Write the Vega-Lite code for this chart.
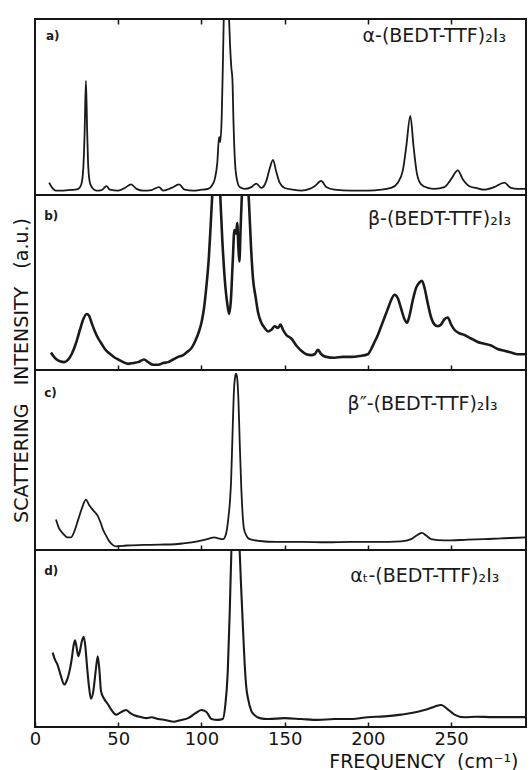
{
  "$schema": "https://vega.github.io/schema/vega-lite/v6.json",
  "background": "white",
  "padding": {"left": 11, "top": 17, "right": 4, "bottom": 2},
  "spacing": 0,
  "bounds": "flush",
  "config": {
    "font": "DejaVu Sans",
    "view": {"stroke": "#161616", "strokeWidth": 2},
    "axis": {"grid": false, "domain": false, "tickColor": "#161616", "tickWidth": 1.5, "labelColor": "#141414", "titleColor": "#141414", "titleFontWeight": "normal"}
  },
  "datasets": {
    "a": [
      {"f": 8.5, "v": 7}, {"f": 10, "v": 4.5}, {"f": 12.6, "v": 2.5}, {"f": 16, "v": 2.5}, {"f": 20, "v": 2.8}, {"f": 24, "v": 3}, {"f": 26, "v": 3.5},
      {"f": 27.8, "v": 6}, {"f": 29, "v": 15}, {"f": 29.8, "v": 35}, {"f": 30.6, "v": 65}, {"f": 31.3, "v": 38}, {"f": 32, "v": 16}, {"f": 33, "v": 7},
      {"f": 34.5, "v": 4}, {"f": 37, "v": 2.5}, {"f": 40, "v": 2.8}, {"f": 43, "v": 5}, {"f": 45, "v": 3}, {"f": 50, "v": 2.5}, {"f": 54, "v": 4},
      {"f": 57.7, "v": 6}, {"f": 61, "v": 3.5}, {"f": 65, "v": 2.5}, {"f": 70, "v": 2.8}, {"f": 74.5, "v": 4.5}, {"f": 77, "v": 2.5}, {"f": 82, "v": 4},
      {"f": 86.5, "v": 6}, {"f": 90, "v": 3}, {"f": 95, "v": 2.5}, {"f": 100, "v": 3}, {"f": 104, "v": 3.5}, {"f": 106, "v": 5}, {"f": 108, "v": 9},
      {"f": 109.5, "v": 18}, {"f": 110.6, "v": 33}, {"f": 111.3, "v": 30}, {"f": 112.2, "v": 45}, {"f": 113, "v": 80}, {"f": 113.8, "v": 115},
      {"f": 115, "v": 125}, {"f": 116.2, "v": 110}, {"f": 117.2, "v": 85}, {"f": 118, "v": 72}, {"f": 118.6, "v": 66}, {"f": 119.3, "v": 40},
      {"f": 120.2, "v": 18}, {"f": 121.5, "v": 8}, {"f": 123, "v": 4.5}, {"f": 126, "v": 3.5}, {"f": 130, "v": 4.5}, {"f": 133, "v": 6.5},
      {"f": 136, "v": 4}, {"f": 139, "v": 8}, {"f": 141, "v": 15}, {"f": 143, "v": 20}, {"f": 145, "v": 13}, {"f": 147, "v": 7}, {"f": 150, "v": 4},
      {"f": 155, "v": 3}, {"f": 160, "v": 2.5}, {"f": 165, "v": 3.5}, {"f": 168, "v": 5}, {"f": 172, "v": 8}, {"f": 175, "v": 4.5}, {"f": 180, "v": 3},
      {"f": 190, "v": 2.5}, {"f": 200, "v": 2.5}, {"f": 208, "v": 3}, {"f": 214, "v": 4}, {"f": 218, "v": 7}, {"f": 221, "v": 14}, {"f": 223, "v": 27},
      {"f": 225.5, "v": 45}, {"f": 227.5, "v": 27}, {"f": 229.5, "v": 12}, {"f": 232, "v": 6}, {"f": 236, "v": 4}, {"f": 240, "v": 3.5},
      {"f": 246, "v": 4.5}, {"f": 250, "v": 9}, {"f": 254, "v": 14}, {"f": 257, "v": 9}, {"f": 261, "v": 5}, {"f": 265, "v": 4}, {"f": 270, "v": 3},
      {"f": 276, "v": 4.5}, {"f": 282, "v": 7}, {"f": 286, "v": 4}, {"f": 290, "v": 3.5}, {"f": 295, "v": 3.5}
    ],
    "b": [
      {"f": 9.6, "v": 10}, {"f": 11, "v": 8}, {"f": 13, "v": 6}, {"f": 15, "v": 5}, {"f": 17.5, "v": 4.5}, {"f": 19.5, "v": 5.5}, {"f": 22, "v": 9},
      {"f": 24.5, "v": 15}, {"f": 27, "v": 23}, {"f": 29, "v": 29}, {"f": 31, "v": 32}, {"f": 32.5, "v": 31}, {"f": 34, "v": 27}, {"f": 36, "v": 22},
      {"f": 38, "v": 18}, {"f": 40, "v": 15}, {"f": 42, "v": 12}, {"f": 44, "v": 10}, {"f": 46, "v": 8.5}, {"f": 48, "v": 7}, {"f": 50, "v": 6},
      {"f": 53, "v": 4.5}, {"f": 56, "v": 3.5}, {"f": 59, "v": 4}, {"f": 62, "v": 4.5}, {"f": 65.5, "v": 6}, {"f": 68, "v": 4.5}, {"f": 71, "v": 3},
      {"f": 74, "v": 3}, {"f": 77, "v": 4}, {"f": 80, "v": 4.5}, {"f": 83, "v": 6}, {"f": 86, "v": 7.5}, {"f": 89, "v": 8.5}, {"f": 91, "v": 10},
      {"f": 94, "v": 12.5}, {"f": 96.5, "v": 17}, {"f": 98.5, "v": 22}, {"f": 100, "v": 27}, {"f": 101.5, "v": 35}, {"f": 103, "v": 48},
      {"f": 104.5, "v": 65}, {"f": 105.5, "v": 82}, {"f": 106.5, "v": 100}, {"f": 108, "v": 120}, {"f": 110, "v": 125}, {"f": 111.2, "v": 102},
      {"f": 112.5, "v": 75}, {"f": 114, "v": 52}, {"f": 115.5, "v": 38}, {"f": 116.7, "v": 32}, {"f": 117.7, "v": 40}, {"f": 118.8, "v": 62},
      {"f": 119.8, "v": 80}, {"f": 120.8, "v": 78}, {"f": 121.5, "v": 84}, {"f": 122.2, "v": 70}, {"f": 122.8, "v": 62}, {"f": 123.5, "v": 80},
      {"f": 124.5, "v": 105}, {"f": 126, "v": 125}, {"f": 127.5, "v": 110}, {"f": 128.6, "v": 95}, {"f": 129.8, "v": 70}, {"f": 131, "v": 52},
      {"f": 132.5, "v": 42}, {"f": 134, "v": 33}, {"f": 136, "v": 27}, {"f": 138, "v": 24}, {"f": 140, "v": 22}, {"f": 142, "v": 23}, {"f": 144, "v": 25},
      {"f": 146, "v": 24}, {"f": 147.5, "v": 26}, {"f": 149, "v": 23}, {"f": 151, "v": 20}, {"f": 154, "v": 18}, {"f": 157, "v": 14}, {"f": 160, "v": 11},
      {"f": 163, "v": 9}, {"f": 166, "v": 8.5}, {"f": 168, "v": 9}, {"f": 170, "v": 11.5}, {"f": 172, "v": 9}, {"f": 175, "v": 7.5}, {"f": 180, "v": 7},
      {"f": 185, "v": 7.5}, {"f": 190, "v": 7.5}, {"f": 195, "v": 8}, {"f": 200, "v": 9}, {"f": 202, "v": 12}, {"f": 204, "v": 16}, {"f": 206, "v": 20},
      {"f": 208, "v": 25}, {"f": 210, "v": 30}, {"f": 212, "v": 35}, {"f": 214, "v": 40}, {"f": 216, "v": 43}, {"f": 218, "v": 41}, {"f": 220, "v": 35},
      {"f": 222, "v": 29}, {"f": 223.5, "v": 27}, {"f": 225, "v": 31}, {"f": 227, "v": 40}, {"f": 229, "v": 47}, {"f": 231, "v": 50}, {"f": 232.5, "v": 51},
      {"f": 234, "v": 47}, {"f": 236, "v": 38}, {"f": 238, "v": 30}, {"f": 240, "v": 26}, {"f": 242, "v": 25}, {"f": 244, "v": 26}, {"f": 246, "v": 29},
      {"f": 248, "v": 30}, {"f": 250, "v": 26}, {"f": 252, "v": 23}, {"f": 255, "v": 21}, {"f": 258, "v": 20}, {"f": 262, "v": 18}, {"f": 266, "v": 16},
      {"f": 270, "v": 15}, {"f": 274, "v": 14}, {"f": 278, "v": 12}, {"f": 282, "v": 11}, {"f": 286, "v": 10}, {"f": 290, "v": 9}, {"f": 295, "v": 9}
    ],
    "c": [
      {"f": 12.6, "v": 17}, {"f": 14.5, "v": 12}, {"f": 17, "v": 9}, {"f": 19.5, "v": 7}, {"f": 21.6, "v": 7}, {"f": 23.5, "v": 10}, {"f": 26, "v": 17},
      {"f": 28.5, "v": 24}, {"f": 30.6, "v": 28}, {"f": 32.5, "v": 25}, {"f": 35, "v": 22}, {"f": 37.7, "v": 19}, {"f": 39.5, "v": 15}, {"f": 41, "v": 11},
      {"f": 42.7, "v": 8}, {"f": 44.5, "v": 5}, {"f": 46.5, "v": 3}, {"f": 48.7, "v": 2}, {"f": 55, "v": 2.5}, {"f": 65, "v": 2.8}, {"f": 75, "v": 3},
      {"f": 84, "v": 3.2}, {"f": 90, "v": 3.8}, {"f": 96, "v": 4.5}, {"f": 101, "v": 5.5}, {"f": 105, "v": 6.5}, {"f": 107.7, "v": 7}, {"f": 110, "v": 6.5},
      {"f": 113, "v": 6}, {"f": 114.8, "v": 9}, {"f": 116.2, "v": 18}, {"f": 117.2, "v": 28}, {"f": 117.8, "v": 38}, {"f": 118.6, "v": 62},
      {"f": 119.4, "v": 86}, {"f": 120.2, "v": 96}, {"f": 120.8, "v": 98}, {"f": 121.4, "v": 96}, {"f": 122.2, "v": 84}, {"f": 123, "v": 60},
      {"f": 123.8, "v": 38}, {"f": 124.6, "v": 22}, {"f": 125.5, "v": 12}, {"f": 127, "v": 8}, {"f": 129, "v": 6}, {"f": 135, "v": 5}, {"f": 145, "v": 4.5},
      {"f": 160, "v": 4.5}, {"f": 175, "v": 4.3}, {"f": 190, "v": 4.5}, {"f": 205, "v": 4.5}, {"f": 220, "v": 4.8}, {"f": 226, "v": 6}, {"f": 230, "v": 8.5},
      {"f": 232.5, "v": 9.5}, {"f": 235, "v": 8}, {"f": 238, "v": 6}, {"f": 242, "v": 5.5}, {"f": 250, "v": 5.3}, {"f": 260, "v": 5.8}, {"f": 270, "v": 6},
      {"f": 280, "v": 6.5}, {"f": 290, "v": 6.8}, {"f": 295, "v": 7}
    ],
    "d": [
      {"f": 10.6, "v": 42}, {"f": 12, "v": 38}, {"f": 13.6, "v": 35}, {"f": 15.5, "v": 29}, {"f": 17.6, "v": 24}, {"f": 19, "v": 26}, {"f": 20.6, "v": 31},
      {"f": 22, "v": 38}, {"f": 23, "v": 45}, {"f": 24, "v": 49}, {"f": 25, "v": 45}, {"f": 26, "v": 40}, {"f": 27, "v": 43}, {"f": 28.3, "v": 49},
      {"f": 29.3, "v": 51}, {"f": 30.3, "v": 45}, {"f": 31.2, "v": 35}, {"f": 32.3, "v": 24}, {"f": 33.6, "v": 16}, {"f": 35, "v": 20}, {"f": 36.5, "v": 32},
      {"f": 37.7, "v": 40}, {"f": 38.7, "v": 32}, {"f": 39.7, "v": 20}, {"f": 41.5, "v": 16}, {"f": 43.7, "v": 13}, {"f": 46, "v": 9.5}, {"f": 48.7, "v": 7},
      {"f": 51, "v": 8}, {"f": 54.7, "v": 9.6}, {"f": 57, "v": 8}, {"f": 60, "v": 6.5}, {"f": 63.7, "v": 5.6}, {"f": 67, "v": 5}, {"f": 70, "v": 5.5},
      {"f": 74, "v": 4.5}, {"f": 78, "v": 4}, {"f": 83.6, "v": 3}, {"f": 88, "v": 4}, {"f": 92, "v": 5}, {"f": 96, "v": 7.5}, {"f": 100, "v": 9.6},
      {"f": 103, "v": 8.5}, {"f": 106, "v": 4.5}, {"f": 110, "v": 4}, {"f": 112.8, "v": 4.5}, {"f": 114.3, "v": 12}, {"f": 115.8, "v": 31},
      {"f": 117, "v": 65}, {"f": 118, "v": 100}, {"f": 119.5, "v": 125}, {"f": 121, "v": 128}, {"f": 122.5, "v": 110}, {"f": 123.8, "v": 80},
      {"f": 124.8, "v": 59}, {"f": 126, "v": 35}, {"f": 127, "v": 22}, {"f": 128, "v": 16}, {"f": 130, "v": 9}, {"f": 131.6, "v": 7}, {"f": 135, "v": 5},
      {"f": 140, "v": 4.5}, {"f": 150, "v": 5}, {"f": 160, "v": 4.5}, {"f": 170, "v": 4}, {"f": 180, "v": 4.5}, {"f": 190, "v": 4.5}, {"f": 200, "v": 5.5},
      {"f": 210, "v": 6}, {"f": 220, "v": 7}, {"f": 227, "v": 8}, {"f": 234, "v": 9.6}, {"f": 240, "v": 11.5}, {"f": 244, "v": 12.4}, {"f": 248, "v": 10},
      {"f": 252, "v": 7}, {"f": 258, "v": 5.5}, {"f": 265, "v": 5.8}, {"f": 275, "v": 5.6}, {"f": 285, "v": 5.6}, {"f": 295, "v": 5.6}
    ],
    "notes": [
      {"p": "a", "tag": "a)", "tx": 6.6, "ty": 88, "name": "α-(BEDT-TTF)₂I₃", "nx": 283, "ny": 87},
      {"p": "b", "tag": "b)", "tx": 5.5, "ty": 86, "name": "β-(BEDT-TTF)₂I₃", "nx": 286, "ny": 83},
      {"p": "c", "tag": "c)", "tx": 5.5, "ty": 85, "name": "β″-(BEDT-TTF)₂I₃", "nx": 278, "ny": 78},
      {"p": "d", "tag": "d)", "tx": 5.5, "ty": 86, "name": "αₜ-(BEDT-TTF)₂I₃", "nx": 279, "ny": 82}
    ]
  },
  "vconcat": [
    {
      "width": 491, "height": 176,
      "layer": [
        {
          "data": {"name": "a"},
          "mark": {"type": "line", "clip": true, "color": "#1a1a1a", "strokeWidth": 1.8, "interpolate": "monotone", "strokeJoin": "round"},
          "encoding": {
            "x": {"field": "f", "type": "quantitative", "scale": {"domain": [0, 295], "nice": false, "zero": false},
                  "axis": {"values": [50, 100, 150, 200, 250], "labels": false, "tickSize": -5, "title": null}},
            "y": {"field": "v", "type": "quantitative", "scale": {"domain": [0, 100], "nice": false}, "axis": null}
          }
        },
        {
          "data": {"name": "notes"},
          "transform": [{"filter": "datum.p === 'a'"}],
          "mark": {"type": "text", "align": "left", "baseline": "alphabetic", "fontSize": 12, "fontWeight": "bold", "color": "#1a1a1a"},
          "encoding": {
            "x": {"field": "tx", "type": "quantitative", "axis": {"orient": "top", "values": [50, 100, 150, 200, 250], "labels": false, "tickSize": -5, "title": null}},
            "y": {"field": "ty", "type": "quantitative"},
            "text": {"field": "tag"}
          }
        },
        {
          "data": {"name": "notes"},
          "transform": [{"filter": "datum.p === 'a'"}],
          "mark": {"type": "text", "align": "right", "baseline": "alphabetic", "fontSize": 19, "color": "#1a1a1a"},
          "encoding": {
            "x": {"field": "nx", "type": "quantitative"},
            "y": {"field": "ny", "type": "quantitative"},
            "text": {"field": "name"}
          }
        }
      ]
    },
    {
      "width": 491, "height": 175,
      "layer": [
        {
          "data": {"name": "b"},
          "mark": {"type": "line", "clip": true, "color": "#1a1a1a", "strokeWidth": 2.6, "interpolate": "monotone", "strokeJoin": "round"},
          "encoding": {
            "x": {"field": "f", "type": "quantitative", "scale": {"domain": [0, 295], "nice": false, "zero": false},
                  "axis": {"values": [50, 100, 150, 200, 250], "labels": false, "tickSize": -5, "title": null}},
            "y": {"field": "v", "type": "quantitative", "scale": {"domain": [0, 100], "nice": false},
                  "axis": {"title": "SCATTERING\u00a0\u00a0\u00a0INTENSITY\u00a0\u00a0\u00a0(a.u.)", "labels": false, "ticks": false, "domain": false,
                           "titleFontSize": 19, "titleAngle": -90, "titleX": -14, "titleY": 175, "titleAlign": "center", "titleBaseline": "middle"}}
          }
        },
        {
          "data": {"name": "notes"},
          "transform": [{"filter": "datum.p === 'b'"}],
          "mark": {"type": "text", "align": "left", "baseline": "alphabetic", "fontSize": 12, "fontWeight": "bold", "color": "#1a1a1a"},
          "encoding": {
            "x": {"field": "tx", "type": "quantitative"},
            "y": {"field": "ty", "type": "quantitative"},
            "text": {"field": "tag"}
          }
        },
        {
          "data": {"name": "notes"},
          "transform": [{"filter": "datum.p === 'b'"}],
          "mark": {"type": "text", "align": "right", "baseline": "alphabetic", "fontSize": 19, "color": "#1a1a1a"},
          "encoding": {
            "x": {"field": "nx", "type": "quantitative"},
            "y": {"field": "ny", "type": "quantitative"},
            "text": {"field": "name"}
          }
        }
      ]
    },
    {
      "width": 491, "height": 180,
      "layer": [
        {
          "data": {"name": "c"},
          "mark": {"type": "line", "clip": true, "color": "#1a1a1a", "strokeWidth": 1.8, "interpolate": "monotone", "strokeJoin": "round"},
          "encoding": {
            "x": {"field": "f", "type": "quantitative", "scale": {"domain": [0, 295], "nice": false, "zero": false},
                  "axis": {"values": [50, 100, 150, 200, 250], "labels": false, "tickSize": -5, "title": null}},
            "y": {"field": "v", "type": "quantitative", "scale": {"domain": [0, 100], "nice": false}, "axis": null}
          }
        },
        {
          "data": {"name": "notes"},
          "transform": [{"filter": "datum.p === 'c'"}],
          "mark": {"type": "text", "align": "left", "baseline": "alphabetic", "fontSize": 12, "fontWeight": "bold", "color": "#1a1a1a"},
          "encoding": {
            "x": {"field": "tx", "type": "quantitative"},
            "y": {"field": "ty", "type": "quantitative"},
            "text": {"field": "tag"}
          }
        },
        {
          "data": {"name": "notes"},
          "transform": [{"filter": "datum.p === 'c'"}],
          "mark": {"type": "text", "align": "right", "baseline": "alphabetic", "fontSize": 19, "color": "#1a1a1a"},
          "encoding": {
            "x": {"field": "nx", "type": "quantitative"},
            "y": {"field": "ny", "type": "quantitative"},
            "text": {"field": "name"}
          }
        }
      ]
    },
    {
      "width": 491, "height": 177,
      "layer": [
        {
          "data": {"name": "d"},
          "mark": {"type": "line", "clip": true, "color": "#1a1a1a", "strokeWidth": 2.1, "interpolate": "monotone", "strokeJoin": "round"},
          "encoding": {
            "x": {"field": "f", "type": "quantitative", "scale": {"domain": [0, 295], "nice": false, "zero": false},
                  "axis": {"values": [0, 50, 100, 150, 200, 250], "tickSize": -5, "labelFontSize": 18, "labelPadding": 8, "labelFlush": false,
                           "title": "FREQUENCY\u00a0\u00a0(cm⁻¹)", "titleFontSize": 19, "titleAnchor": "end", "titleAlign": "right",
                           "titleX": 483, "titleY": 40, "titleBaseline": "alphabetic"}},
            "y": {"field": "v", "type": "quantitative", "scale": {"domain": [0, 100], "nice": false}, "axis": null}
          }
        },
        {
          "data": {"name": "notes"},
          "transform": [{"filter": "datum.p === 'd'"}],
          "mark": {"type": "text", "align": "left", "baseline": "alphabetic", "fontSize": 12, "fontWeight": "bold", "color": "#1a1a1a"},
          "encoding": {
            "x": {"field": "tx", "type": "quantitative"},
            "y": {"field": "ty", "type": "quantitative"},
            "text": {"field": "tag"}
          }
        },
        {
          "data": {"name": "notes"},
          "transform": [{"filter": "datum.p === 'd'"}],
          "mark": {"type": "text", "align": "right", "baseline": "alphabetic", "fontSize": 19, "color": "#1a1a1a"},
          "encoding": {
            "x": {"field": "nx", "type": "quantitative"},
            "y": {"field": "ny", "type": "quantitative"},
            "text": {"field": "name"}
          }
        }
      ]
    }
  ]
}
